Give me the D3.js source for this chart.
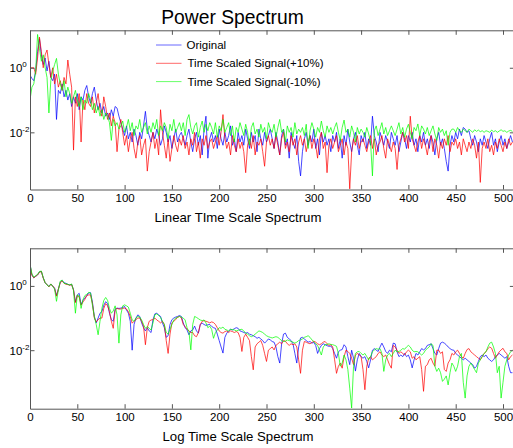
<!DOCTYPE html>
<html>
<head>
<meta charset="utf-8">
<script src="https://cdn.jsdelivr.net/npm/d3@7"></script>
<style>
  html, body { margin: 0; padding: 0; background: #fff; }
  svg { display: block; font-family: "Liberation Sans", Arial, sans-serif; }
</style>
</head>
<body>
<svg id="chart" width="513" height="448"></svg>
<script>
// ---------------- data (log10 of power, sampled every 2 bins) ----------------
const freqStep = 2;
const seriesNames = ["Original", "Time Scaled Signal(+10%)", "Time Scaled Signal(-10%)"];
const seriesColors = ["#0000ff", "#ff0000", "#00ff00"];
const xTicks = [0, 50, 100, 150, 200, 250, 300, 350, 400, 450, 500];
const yTicks = [1, 0.01];
const panelTitles = ["Linear TIme Scale Spectrum", "Log Time Scale Spectrum"];

const linOriginal = [
 -0.23,-0.33,-0.4,-0.1,0.5,0.9,0.4,0.1,0.3,-0.1,0.2,-0.3,-0.4,-0.2,-1.6,-0.7,
 -0.8,-0.5,-0.9,-0.7,-1.0,-0.8,-1.2,-0.9,-1.1,-0.8,-1.3,-0.9,-1.0,-0.7,-0.55,-0.9,
 -1.1,-0.8,-0.6,-1.0,-1.3,-1.1,-1.4,-1.2,-1.5,-1.4,-1.6,-1.3,-1.5,-1.2,-1.25,-1.5,
 -1.7,-1.9,-2.1,-1.8,-2.2,-2.0,-2.3,-1.9,-2.1,-2.4,-2.0,-2.2,-1.8,-1.35,-1.9,-2.1,
 -2.3,-2.0,-2.2,-1.9,-2.1,-2.4,-2.2,-1.8,-2.0,-2.3,-2.1,-2.5,-2.2,-1.9,-2.3,-2.1,
 -2.0,-2.2,-2.4,-2.1,-1.9,-2.3,-2.6,-2.2,-2.0,-2.4,-2.1,-2.7,-1.9,-1.5,-2.8,-2.2,
 -2.0,-2.3,-2.1,-2.5,-1.9,-2.2,-2.4,-2.0,-2.3,-2.1,-1.8,-2.4,-2.2,-2.6,-2.0,-2.3,
 -2.1,-2.4,-1.9,-2.2,-2.5,-2.0,-2.3,-2.1,-2.6,-1.9,-2.2,-2.4,-2.0,-2.3,-2.1,-1.9,
 -2.2,-2.5,-2.0,-2.3,-2.7,-2.1,-1.9,-2.4,-2.2,-2.8,-2.0,-2.3,-2.5,-2.1,-2.9,-3.35,
 -2.6,-2.2,-2.0,-2.4,-2.1,-2.3,-1.9,-2.5,-2.2,-2.7,-2.0,-2.3,-2.1,-2.4,-2.2,-2.6,
 -2.1,-2.3,-2.0,-2.5,-2.2,-2.8,-2.1,-2.4,-1.9,-2.3,-2.6,-2.2,-2.0,-2.4,-2.7,-2.1,
 -2.3,-2.0,-2.5,-2.2,-2.4,-1.5,-2.1,-2.3,-2.6,-2.0,-2.2,-2.4,-2.1,-2.3,-2.5,-2.0,
 -2.2,-2.4,-2.1,-2.6,-2.3,-2.0,-2.2,-2.5,-2.1,-2.3,-2.0,-2.4,-2.2,-2.6,-2.1,-2.3,
 -2.0,-2.4,-2.2,-2.5,-2.1,-2.3,-2.7,-2.2,-2.0,-2.4,-2.2,-2.5,-2.9,-3.2,-2.4,-2.1,
 -2.3,-2.0,-2.2,-1.9,-2.1,-1.85,-1.9,-2.0,-1.95,-2.2,-2.4,-2.1,-2.3,-2.6,-2.2,-2.4,
 -2.1,-2.3,-2.5,-2.2,-2.0,-2.4,-2.2,-2.6,-2.3,-2.1,-2.4,-2.2,-2.5,-2.3,-2.1,-2.3
];
const linPlus10 = [
 0.0,0.0,0.0,-0.2,0.3,0.95,0.5,0.0,0.4,0.55,0.1,-0.3,0.0,-0.5,-0.2,-0.6,
 -0.4,-0.7,-0.3,-0.5,0.24,-0.2,-0.6,-2.55,-0.9,-1.2,-0.8,-2.3,-1.0,-1.3,-0.8,-1.1,
 -1.2,-0.9,-1.4,-1.1,-0.8,-1.3,-1.5,-0.9,-1.2,-1.6,-1.4,-1.8,-1.5,-1.7,-2.6,-1.9,
 -1.6,-2.0,-2.4,-2.1,-2.6,-2.2,-2.0,-2.5,-2.8,-2.3,-2.1,-2.7,-2.4,-2.2,-3.2,-2.6,
 -2.3,-2.0,-2.5,-2.2,-2.7,-1.3,-2.0,-2.4,-2.8,-2.2,-2.9,-2.5,-2.1,-2.4,-2.6,-2.2,
 -2.4,-2.1,-2.5,-2.3,-2.7,-2.2,-2.4,-2.0,-2.6,-2.3,-2.8,-2.2,-2.4,-2.1,-2.5,-2.3,
 -2.2,-2.5,-2.3,-2.1,-2.4,-2.0,-1.45,-2.2,-2.5,-2.3,-2.7,-2.1,-2.4,-2.6,-2.2,-2.5,
 -2.3,-2.6,-3.25,-2.4,-2.2,-2.5,-2.1,-2.7,-2.3,-2.4,-2.2,-2.6,-3.05,-2.3,-2.1,-2.4,
 -2.2,-2.5,-2.1,-2.4,-2.7,-2.2,-2.0,-2.5,-2.3,-2.6,-2.1,-2.4,-2.2,-2.7,-2.3,-2.1,
 -2.4,-2.2,-2.6,-2.3,-2.1,-2.5,-2.2,-2.4,-2.8,-2.2,-2.0,-2.5,-2.3,-3.25,-2.4,-2.2,
 -2.5,-2.3,-2.1,-2.6,-2.4,-2.2,-2.7,-2.3,-2.5,-3.75,-2.6,-2.2,-2.4,-2.1,-2.5,-2.3,
 -2.2,-2.4,-2.6,-2.3,-2.1,-2.5,-2.2,-2.7,-2.4,-2.3,-2.1,-2.5,-2.8,-2.2,-2.4,-2.6,
 -2.3,-2.5,-3.15,-2.4,-2.2,-2.0,-2.3,-2.1,-2.5,-1.5,-2.2,-2.4,-2.6,-2.3,-2.1,-2.5,
 -2.2,-2.4,-2.7,-2.3,-2.1,-2.6,-2.2,-2.4,-2.8,-2.3,-2.5,-2.2,-2.4,-2.1,-2.6,-2.3,
 -2.4,-2.2,-2.5,-2.3,-2.7,-2.2,-2.4,-2.6,-2.3,-2.5,-2.2,-2.4,-2.8,-2.3,-3.55,-2.5,
 -2.3,-2.5,-2.2,-2.6,-2.4,-2.7,-2.3,-2.5,-2.2,-2.4,-2.6,-2.3,-2.5,-2.2,-2.4,-2.3
];
const linMinus10 = [
 -1.0,-0.6,-0.5,-0.1,1.03,0.6,0.2,0.4,0.0,-0.3,-1.4,-0.4,-0.1,0.1,0.29,-0.2,
 -0.5,-0.7,-0.4,-0.9,-0.6,-0.8,-1.1,-0.9,-0.7,-1.0,-1.2,-0.9,-1.3,-1.0,-1.1,-0.8,
 -1.0,-1.3,-1.1,-1.4,-1.2,-1.5,-1.3,-1.6,-1.4,-1.5,-1.7,-2.25,-1.6,-1.8,-1.7,-1.9,
 -1.8,-1.65,-2.0,-1.85,-1.6,-1.95,-1.7,-2.1,-1.8,-1.9,-1.6,-2.0,-1.85,-1.7,-2.05,-1.8,
 -2.0,-1.7,-1.9,-1.6,-2.1,-1.8,-1.95,-1.7,-1.85,-2.2,-1.75,-1.95,-1.6,-2.0,-1.85,-1.7,
 -1.95,-1.7,-2.1,-1.6,-1.45,-1.85,-2.05,-1.8,-1.7,-2.15,-1.85,-1.65,-2.0,-1.75,-1.95,-1.7,
 -1.85,-2.05,-1.7,-2.15,-1.8,-1.95,-1.6,-2.0,-1.85,-1.7,-2.1,-1.8,-2.3,-1.85,-2.0,-1.7,
 -1.9,-2.1,-1.75,-2.0,-2.4,-1.85,-1.7,-2.05,-1.9,-2.15,-1.75,-2.0,-1.85,-2.2,-1.7,-1.9,
 -2.0,-1.75,-2.15,-1.85,-1.6,-2.0,-1.9,-2.3,-1.8,-2.0,-1.85,-2.15,-1.7,-2.05,-1.9,-2.0,
 -1.85,-2.1,-1.75,-2.5,-1.95,-1.7,-1.9,-2.15,-1.85,-2.0,-1.65,-1.95,-2.15,-1.8,-2.0,-1.85,
 -2.05,-1.85,-1.7,-2.0,-2.25,-1.85,-1.62,-2.0,-1.9,-2.15,-1.8,-2.0,-2.3,-1.85,-2.05,-1.9,
 -2.0,-2.15,-1.85,-2.05,-2.3,-3.35,-1.95,-1.8,-2.1,-1.9,-1.7,-2.05,-1.85,-2.1,-1.95,-1.8,
 -1.95,-2.1,-1.9,-1.7,-2.05,-1.85,-2.15,-1.9,-1.75,-2.0,-2.2,-1.85,-1.95,-1.74,-2.1,-1.8,
 -1.9,-2.05,-1.85,-2.1,-1.95,-1.8,-2.05,-2.25,-1.85,-2.0,-1.9,-2.1,-1.95,-2.4,-2.0,-1.9,
 -1.9,-2.0,-1.85,-1.95,-2.0,-1.9,-1.95,-2.0,-1.9,-1.95,-2.0,-1.92,-1.97,-1.93,-1.98,-1.95,
 -2.0,-1.95,-1.97,-2.0,-1.93,-1.98,-1.95,-2.0,-1.96,-1.92,-1.97,-1.95,-2.0,-1.96,-1.94,-1.97
];

const logOriginal = [
 0.67,0.35,0.25,0.3,0.34,0.44,0.45,0.25,0.1,0.04,-0.02,0.06,0.0,-0.07,-0.3,-0.1,
 0.12,0.17,0.1,0.08,0.05,0.03,0.05,-0.12,-0.5,-0.28,-0.23,-0.58,-0.45,-0.38,-0.3,-0.22,
 -0.21,-0.5,-0.95,-1.15,-1.0,-0.85,-0.8,-0.6,-0.49,-0.55,-0.85,-1.05,-1.1,-0.72,-0.69,-0.7,
 -0.69,-0.67,-0.64,-0.75,-0.85,-1.1,-2.0,-1.2,-1.0,-0.9,-0.95,-1.15,-1.3,-1.4,-1.3,-1.4,
 -1.45,-1.05,-0.87,-0.85,-0.9,-0.95,-1.15,-1.3,-1.6,-1.55,-1.2,-1.05,-1.0,-0.97,-0.95,-0.92,
 -0.95,-1.15,-1.3,-1.37,-1.52,-1.4,-1.37,-1.25,-1.4,-1.47,-1.2,-1.16,-1.2,-1.23,-1.21,-1.2,
 -1.26,-1.3,-1.32,-1.5,-1.7,-1.9,-2.09,-1.6,-1.47,-1.4,-1.35,-1.37,-1.33,-1.3,-1.32,-1.4,
 -1.42,-1.45,-1.47,-1.45,-1.5,-1.52,-1.55,-1.58,-1.63,-1.6,-1.65,-1.7,-1.78,-1.72,-1.65,-1.68,
 -1.73,-1.75,-1.9,-2.2,-2.4,-1.8,-1.5,-1.47,-1.6,-1.65,-1.7,-1.8,-2.1,-2.4,-1.9,-1.62,
 -1.6,-1.65,-1.7,-1.75,-1.73,-1.78,-1.76,-1.85,-2.1,-1.95,-1.85,-1.8,-1.83,-1.86,-1.88,-1.87,
 -1.95,-2.1,-2.25,-2.05,-2.0,-1.98,-1.83,-1.9,-2.2,-2.45,-2.0,-2.25,-2.65,-2.3,-2.1,-2.2,
 -2.25,-2.2,-2.35,-2.55,-2.3,-2.0,-1.95,-2.0,-2.04,-1.9,-1.78,-1.9,-2.04,-2.1,-2.0,-2.05,
 -1.78,-1.8,-2.05,-2.2,-2.15,-2.2,-2.1,-2.2,-2.15,-2.3,-2.55,-2.3,-2.1,-2.15,-2.05,-1.95,
 -1.99,-1.95,-1.85,-1.83,-1.8,-1.95,-2.1,-2.15,-1.95,-1.78,-1.75,-1.78,-1.83,-1.9,-1.95,-1.99,
 -2.0,-2.1,-2.15,-2.2,-2.25,-2.3,-2.25,-2.3,-2.35,-2.4,-2.45,-2.56,-2.5,-2.35,-2.2,-2.15,
 -2.2,-2.15,-2.25,-2.3,-2.35,-2.3,-2.2,-2.15,-2.1,-2.15,-2.2,-2.25,-2.2,-2.5,-2.7,-2.7
];
const logPlus10 = [
 0.65,0.33,0.25,0.3,0.34,0.42,0.45,0.24,0.1,0.04,-0.03,0.05,0.0,-0.08,-0.32,-0.1,
 0.1,0.15,0.08,0.05,0.04,0.02,0.04,-0.12,-0.52,-0.3,-0.35,-0.6,-0.5,-0.42,-0.3,-0.28,
 -0.28,-0.55,-1.0,-1.12,-1.05,-1.0,-1.0,-0.7,-0.55,-0.62,-0.8,-1.1,-1.32,-0.75,-0.7,-0.72,
 -0.72,-0.7,-0.69,-0.72,-0.8,-0.95,-1.16,-1.1,-1.05,-1.0,-1.0,-1.1,-1.25,-1.83,-1.3,-1.1,
 -1.06,-1.05,-1.0,-1.06,-1.1,-1.15,-1.1,-1.2,-1.7,-2.1,-1.5,-1.15,-1.1,-1.05,-0.97,-0.95,
 -1.0,-1.2,-1.27,-1.35,-1.4,-1.45,-1.45,-1.55,-1.58,-1.45,-1.2,-1.1,-1.08,-1.1,-1.12,-1.15,
 -1.12,-1.14,-1.2,-1.3,-1.4,-1.45,-1.47,-1.42,-1.4,-1.45,-1.4,-1.42,-1.45,-1.42,-1.45,-1.6,
 -2.04,-1.6,-1.5,-1.6,-1.7,-2.2,-2.61,-1.9,-1.8,-1.75,-1.7,-1.85,-2.1,-2.35,-2.0,-1.95,
 -1.9,-1.99,-1.85,-1.8,-1.75,-1.8,-1.7,-1.72,-1.8,-1.85,-1.8,-1.83,-1.8,-1.9,-2.3,-2.72,
 -2.0,-1.73,-1.75,-1.78,-1.8,-1.76,-1.72,-1.75,-1.8,-1.83,-1.8,-1.75,-1.73,-1.8,-1.85,-1.83,
 -1.9,-2.3,-2.72,-2.5,-2.4,-2.56,-2.2,-2.0,-2.04,-2.1,-2.25,-2.45,-2.15,-2.1,-2.15,-2.2,
 -2.6,-3.23,-2.5,-2.25,-2.2,-2.3,-2.25,-2.2,-2.1,-2.05,-2.15,-2.2,-2.15,-2.3,-2.45,-2.56,
 -1.85,-1.9,-2.0,-2.1,-2.05,-2.1,-2.15,-2.05,-2.0,-2.05,-2.25,-2.2,-2.3,-2.25,-2.2,-2.6,
 -3.28,-2.5,-2.45,-2.3,-2.25,-2.4,-2.5,-2.0,-2.0,-2.1,-2.05,-2.6,-2.66,-2.4,-2.3,-2.1,
 -2.15,-2.05,-2.0,-2.1,-2.2,-2.25,-2.1,-1.98,-1.95,-2.05,-2.1,-2.15,-2.2,-2.25,-2.3,-2.2,
 -2.1,-2.05,-1.95,-1.9,-1.94,-2.1,-2.25,-2.15,-2.05,-1.99,-1.94,-2.05,-2.1,-2.3,-2.2,-2.15
];
const logMinus10 = [
 0.68,0.38,0.27,0.32,0.36,0.45,0.46,0.26,0.1,0.03,-0.02,0.06,-0.02,-0.1,-0.48,-0.12,
 0.15,0.18,0.08,0.07,0.05,0.03,0.06,-0.15,-0.85,-0.28,-0.3,-0.7,-0.42,-0.3,-0.26,-0.2,
 -0.22,-0.6,-0.95,-1.2,-1.52,-1.1,-0.7,-0.45,-0.36,-0.45,-0.7,-0.85,-0.78,-0.62,-0.9,-1.78,
 -0.9,-0.62,-0.59,-0.62,-0.66,-0.85,-1.06,-1.1,-1.0,-0.95,-0.97,-1.06,-1.2,-1.32,-1.26,-1.32,
 -1.37,-1.15,-0.9,-0.87,-0.92,-0.98,-1.1,-1.2,-1.45,-1.5,-1.35,-1.2,-1.06,-1.0,-0.98,-0.95,
 -0.97,-1.0,-1.06,-1.3,-1.42,-1.99,-1.2,-0.95,-0.98,-1.02,-1.06,-1.08,-1.06,-1.15,-1.3,-1.25,
 -1.35,-1.63,-1.45,-1.37,-1.3,-1.32,-1.28,-1.35,-1.37,-1.4,-1.35,-1.36,-1.37,-1.4,-1.38,-1.36,
 -1.35,-1.4,-1.47,-1.5,-1.55,-1.58,-1.55,-1.5,-1.45,-1.4,-1.42,-1.45,-1.5,-1.55,-1.58,-1.6,
 -1.62,-1.6,-1.58,-1.6,-1.65,-1.7,-1.73,-1.72,-1.68,-1.7,-1.73,-1.75,-1.78,-1.75,-1.7,-1.68,
 -1.65,-1.6,-1.58,-1.55,-1.6,-1.68,-1.73,-1.8,-1.85,-2.0,-2.15,-1.9,-1.83,-1.82,-1.8,-1.82,
 -1.83,-1.85,-1.88,-2.1,-2.5,-2.4,-2.15,-2.3,-2.6,-3.18,-3.8,-2.5,-2.1,-2.05,-2.04,-2.1,
 -2.15,-2.1,-2.2,-2.3,-2.2,-2.05,-1.99,-1.95,-1.97,-1.95,-2.1,-2.66,-2.3,-2.15,-2.1,-2.2,
 -2.1,-2.0,-2.05,-2.04,-2.0,-1.95,-1.97,-1.9,-1.85,-1.9,-2.0,-2.05,-2.04,-2.05,-2.1,-2.15,
 -2.1,-2.0,-1.95,-1.9,-1.8,-1.85,-2.5,-2.66,-2.56,-2.7,-2.97,-2.9,-2.8,-3.08,-2.7,-2.4,
 -2.5,-2.66,-2.5,-2.2,-2.1,-3.0,-3.49,-2.8,-2.5,-2.4,-2.5,-2.6,-2.7,-2.4,-2.3,-2.2,
 -2.1,-2.05,-1.9,-1.78,-1.75,-1.9,-2.1,-2.7,-2.5,-3.49,-3.0,-2.5,-2.3,-2.15,-2.05,-2.0
];

// ---------------- layout ----------------
const svg = d3.select("#chart");
const FONT = '"Liberation Sans", Arial, sans-serif';
const axisColor = "#555";

const panels = [
  { top: 30.3, bottom: 189.5, yMin: -3.77, yMax: 1.16, series: [linOriginal, linPlus10, linMinus10], title: panelTitles[0], titleY: 221.5, legend: true },
  { top: 248.3, bottom: 408.7, yMin: -3.82, yMax: 1.17, series: [logOriginal, logPlus10, logMinus10], title: panelTitles[1], titleY: 440.5, legend: false }
];

const x = d3.scaleLinear().domain([0, 512]).range([30, 30 + 512 * 0.946]);

svg.append("text")
  .attr("x", 232.5).attr("y", 23.5)
  .attr("text-anchor", "middle")
  .attr("font-family", FONT).attr("font-size", 19.3)
  .attr("fill", "#000")
  .text("Power Spectrum");

panels.forEach((p, pi) => {
  const y = d3.scaleLog().domain([Math.pow(10, p.yMin), Math.pow(10, p.yMax)]).range([p.bottom, p.top]);
  const g = svg.append("g");
  const clipId = "clip" + pi;
  svg.append("clipPath").attr("id", clipId)
    .append("rect").attr("x", x.range()[0]).attr("y", p.top)
    .attr("width", x.range()[1] - x.range()[0]).attr("height", p.bottom - p.top);

  const line = d3.line()
    .x((d, i) => x(i * freqStep))
    .y(d => y(Math.pow(10, d)));

  const lines = g.append("g").attr("clip-path", `url(#${clipId})`);
  p.series.forEach((s, si) => {
    lines.append("path")
      .datum(s)
      .attr("fill", "none")
      .attr("stroke", seriesColors[si])
      .attr("stroke-width", 0.85)
      .attr("stroke-opacity", 0.85)
      .attr("stroke-linejoin", "round")
      .attr("d", line);
  });

  const tick = 4.5;
  const gx = g.append("g").attr("transform", `translate(0,${p.bottom})`)
    .call(d3.axisBottom(x).tickValues(xTicks).tickSizeInner(-tick).tickSizeOuter(0).tickPadding(4.5).tickFormat(d3.format("d")));
  const gxt = g.append("g").attr("transform", `translate(0,${p.top})`)
    .call(d3.axisTop(x).tickValues(xTicks).tickSizeInner(-tick).tickSizeOuter(0).tickFormat(""));
  const gy = g.append("g").attr("transform", `translate(${x.range()[0]},0)`)
    .call(d3.axisLeft(y).tickValues(yTicks).tickSizeInner(-tick).tickSizeOuter(0).tickFormat(""));
  const gyr = g.append("g").attr("transform", `translate(${x.range()[1]},0)`)
    .call(d3.axisRight(y).tickValues(yTicks).tickSizeInner(-tick).tickSizeOuter(0).tickFormat(""));

  [gx, gxt, gy, gyr].forEach(a => {
    a.select(".domain").attr("stroke", axisColor).attr("stroke-width", 1);
    a.selectAll(".tick line").attr("stroke", axisColor).attr("stroke-width", 1);
    a.attr("font-family", FONT);
  });
  gx.selectAll(".tick text").attr("fill", "#000").attr("font-size", 11.5);

  gy.selectAll(".tick").each(function(d) {
    const t = d3.select(this).select("text")
      .text(null)
      .attr("x", -20.5).attr("dy", null).attr("y", 4)
      .attr("text-anchor", "start")
      .attr("fill", "#000")
      .attr("font-size", 11.5);
    t.append("tspan").text("10");
    t.append("tspan").attr("dy", -5).attr("font-size", 8).text(String(Math.round(Math.log10(d))));
  });

  svg.append("text")
    .attr("x", 238).attr("y", p.titleY)
    .attr("text-anchor", "middle")
    .attr("font-family", FONT).attr("font-size", 13.2)
    .attr("fill", "#000")
    .text(p.title);

  if (p.legend) {
    const lg = svg.append("g");
    seriesNames.forEach((name, i) => {
      const ly = 45 + i * 18.3;
      lg.append("line").attr("x1", 156).attr("x2", 181.5).attr("y1", ly).attr("y2", ly)
        .attr("stroke", seriesColors[i]).attr("stroke-width", 0.85).attr("stroke-opacity", 0.7);
      lg.append("text").attr("x", i === 0 ? 186.5 : 187.5).attr("y", ly + 4)
        .attr("font-family", FONT).attr("font-size", 11.5).attr("fill", "#000")
        .text(name);
    });
  }
});
</script>
</body>
</html>
